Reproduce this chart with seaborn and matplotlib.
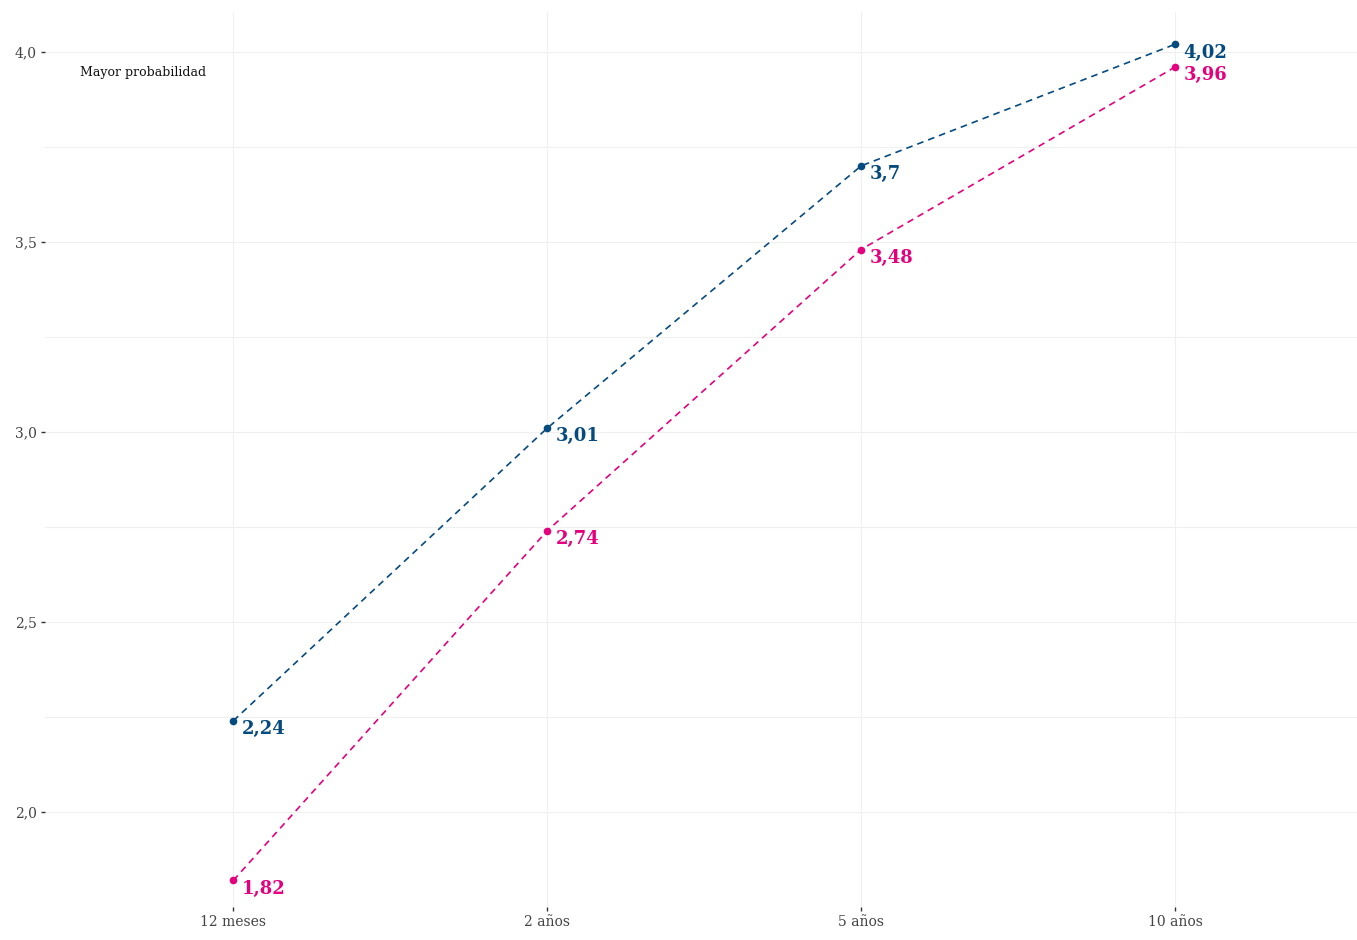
import matplotlib
matplotlib.use("Agg")
import matplotlib.pyplot as plt
import seaborn as sns
import pandas as pd

# %%
plazos = ["12 meses", "2 años", "5 años", "10 años"]
serie_azul = [2.24, 3.01, 3.70, 4.02]
serie_rosa = [1.82, 2.74, 3.48, 3.96]
etiq_azul = ["2,24", "3,01", "3,7", "4,02"]
etiq_rosa = ["1,82", "2,74", "3,48", "3,96"]
y_ticks = [2.0, 2.5, 3.0, 3.5, 4.0]
y_labels = ["2,0", "2,5", "3,0", "3,5", "4,0"]

azul = "#064b7f"
rosa = "#e5007d"

# %%
df = pd.DataFrame({
    "pos": list(range(len(plazos))) * 2,
    "valor": serie_azul + serie_rosa,
    "serie": ["azul"] * len(plazos) + ["rosa"] * len(plazos),
})

sns.set_style("white")
plt.rcParams["font.family"] = ["DejaVu Serif"]

fig = plt.figure(figsize=(13.57, 9.4), dpi=100)
ax = fig.add_axes([45 / 1357, 33 / 940, 1312 / 1357, 895 / 940])

for name, col in [("azul", azul), ("rosa", rosa)]:
    sub = df[df["serie"] == name]
    sns.lineplot(x="pos", y="valor", data=sub, color=col, linestyle=(0, (4, 3)),
                 linewidth=1.2, marker="o", markersize=5.5, markeredgewidth=0,
                 ax=ax, zorder=3)

for i in range(len(plazos)):
    ax.annotate(etiq_azul[i], (i, serie_azul[i]), xytext=(6, -6), textcoords="offset points",
                color=azul, fontsize=13, fontweight="bold", va="center", ha="left")
    ax.annotate(etiq_rosa[i], (i, serie_rosa[i]), xytext=(6, -6), textcoords="offset points",
                color=rosa, fontsize=13, fontweight="bold", va="center", ha="left")

ax.text(-0.49, 3.947, "Mayor probabilidad", fontsize=9, color="#111111", ha="left", va="center")

ax.set_xlim(-0.6, 3.58)
ax.set_ylim(1.75, 4.105)
ax.set_xticks(range(len(plazos)))
ax.set_xticklabels(plazos)
ax.set_yticks(y_ticks)
ax.set_yticklabels(y_labels)
ax.set_yticks([1.75, 2.25, 2.75, 3.25, 3.75], minor=True)
ax.grid(True, which="both", color="#f0f0f0", linewidth=0.8)
ax.set_axisbelow(True)
for s in ax.spines.values():
    s.set_visible(False)
ax.tick_params(axis="both", which="major", length=3, width=1, color="#333333",
               labelsize=10, labelcolor="#444444", pad=3, left=True, bottom=True)
ax.tick_params(axis="both", which="minor", length=0)
ax.set_xlabel("")
ax.set_ylabel("")

fig.savefig("out.png", dpi=100)
